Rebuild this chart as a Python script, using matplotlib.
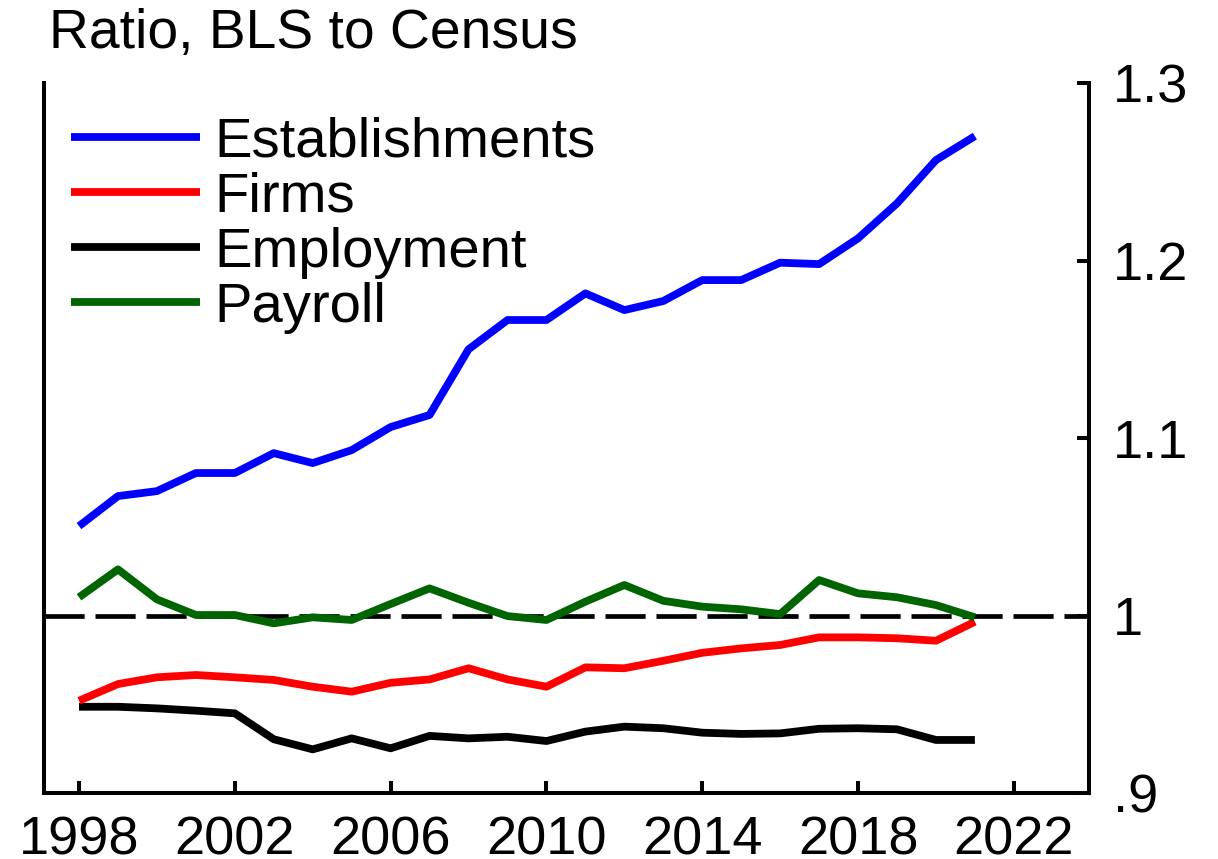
import numpy as np
import matplotlib
matplotlib.use("Agg")
import matplotlib.pyplot as plt
from matplotlib.ticker import FixedLocator, FixedFormatter

plt.rcParams['font.family'] = ['Liberation Sans', 'DejaVu Sans']

years = np.arange(1998, 2022)

establishments = [1.0504, 1.0673, 1.0701, 1.0803, 1.0803, 1.0915, 1.0859, 1.0932,
                  1.1062, 1.1130, 1.1500, 1.1665, 1.1665, 1.1815, 1.1721, 1.1772,
                  1.1890, 1.1890, 1.1988, 1.1980, 1.2125, 1.2322, 1.2566, 1.2701]
firms = [0.9520, 0.9614, 0.9652, 0.9665, 0.9652, 0.9637, 0.9599, 0.9571,
         0.9621, 0.9640, 0.9703, 0.9640, 0.9599, 0.9708, 0.9703, 0.9745,
         0.9790, 0.9815, 0.9834, 0.9877, 0.9877, 0.9872, 0.9858, 0.9965]
employment = [0.9486, 0.9486, 0.9477, 0.9464, 0.9449, 0.9303, 0.9246, 0.9308,
              0.9252, 0.9322, 0.9308, 0.9317, 0.9293, 0.9346, 0.9374, 0.9365,
              0.9340, 0.9333, 0.9336, 0.9362, 0.9365, 0.9359, 0.9299, 0.9299]
payroll = [1.0103, 1.0260, 1.0091, 1.0003, 1.0003, 0.9956, 0.9990, 0.9975,
           1.0065, 1.0153, 1.0072, 0.9997, 0.9975, 1.0078, 1.0172, 1.0083,
           1.0050, 1.0035, 1.0008, 1.0200, 1.0125, 1.0103, 1.0059, 0.9990]

x_ticks = [1998, 2002, 2006, 2010, 2014, 2018, 2022]
y_ticks = [0.9, 1.0, 1.1, 1.2, 1.3]
y_tick_labels = [".9", "1", "1.1", "1.2", "1.3"]

fig = plt.figure(figsize=(12.18, 8.59), dpi=100)
ax = fig.add_axes([0.0361, 0.0768, 0.858, 0.8265])

ax.axhline(1.0, color="black", lw=3.4, dashes=(8.5, 2.3), zorder=1)

lw = 5.6
ax.plot(years, establishments, color="#0000ff", lw=lw, label="Establishments",
        solid_capstyle="butt", zorder=3)
ax.plot(years, employment, color="black", lw=lw, label="Employment",
        solid_capstyle="butt", zorder=2)
ax.plot(years, firms, color="#ff0000", lw=lw, label="Firms",
        solid_capstyle="butt", zorder=3)
ax.plot(years, payroll, color="#006400", lw=lw, label="Payroll",
        solid_capstyle="butt", zorder=3)

ax.set_xlim(1997.1, 2023.93)
ax.set_ylim(0.9, 1.3)

for side in ["left", "right", "bottom"]:
    ax.spines[side].set_linewidth(2.9)
ax.spines["top"].set_visible(False)

ax.xaxis.set_major_locator(FixedLocator(x_ticks))
ax.yaxis.tick_right()
ax.yaxis.set_major_locator(FixedLocator(y_ticks))
ax.yaxis.set_major_formatter(FixedFormatter(y_tick_labels))
ax.tick_params(axis="x", direction="in", length=9, width=2.9, labelsize=39, pad=16)
ax.tick_params(axis="y", direction="in", length=9, width=2.9, labelsize=39, pad=17)

handles, labels = ax.get_legend_handles_labels()
order = ["Establishments", "Firms", "Employment", "Payroll"]
h = [handles[labels.index(o)] for o in order]
ax.legend(h, order, loc="upper left", bbox_to_anchor=(0.026, 0.953),
          frameon=False, fontsize=40.5, handlelength=2.29, handletextpad=0.26,
          labelspacing=0.055, borderpad=0, borderaxespad=0)

fig.text(0.040, 0.944, "Ratio, BLS to Census", fontsize=39.8, va="baseline", ha="left")

fig.savefig("out.png", dpi=100)
